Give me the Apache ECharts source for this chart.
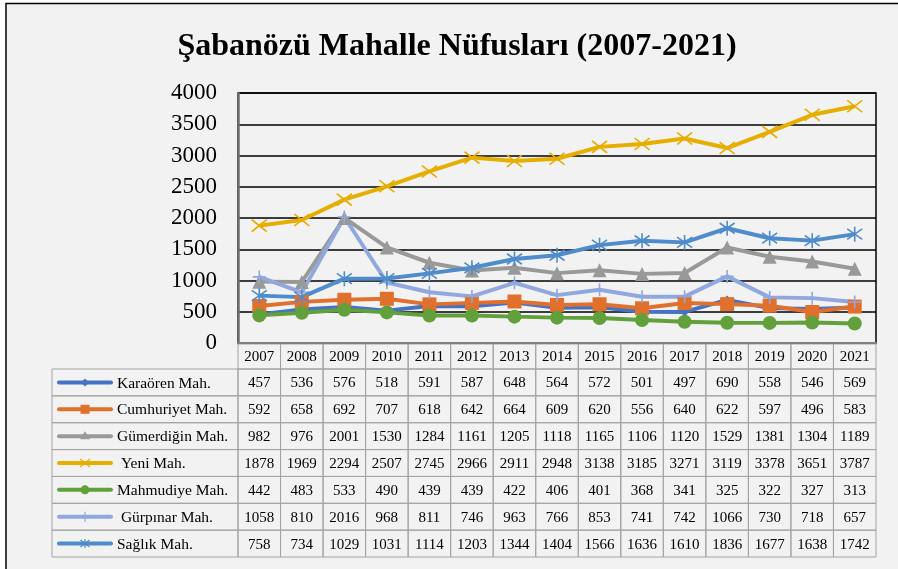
<!DOCTYPE html>
<html>
<head>
<meta charset="utf-8">
<script src="https://cdn.jsdelivr.net/npm/echarts@6/dist/echarts.min.js"></script>
<style>
  html, body { margin: 0; padding: 0; background: #ffffff; }
  #chart { width: 898px; height: 569px; }
</style>
</head>
<body>
<div id="chart"></div>
<script>
const years = ["2007", "2008", "2009", "2010", "2011", "2012", "2013", "2014", "2015", "2016", "2017", "2018", "2019", "2020", "2021"];
const karaoren = [457, 536, 576, 518, 591, 587, 648, 564, 572, 501, 497, 690, 558, 546, 569];
const cumhuriyet = [592, 658, 692, 707, 618, 642, 664, 609, 620, 556, 640, 622, 597, 496, 583];
const gumerdigin = [982, 976, 2001, 1530, 1284, 1161, 1205, 1118, 1165, 1106, 1120, 1529, 1381, 1304, 1189];
const yeni = [1878, 1969, 2294, 2507, 2745, 2966, 2911, 2948, 3138, 3185, 3271, 3119, 3378, 3651, 3787];
const mahmudiye = [442, 483, 533, 490, 439, 439, 422, 406, 401, 368, 341, 325, 322, 327, 313];
const gurpinar = [1058, 810, 2016, 968, 811, 746, 963, 766, 853, 741, 742, 1066, 730, 718, 657];
const saglik = [758, 734, 1029, 1031, 1114, 1203, 1344, 1404, 1566, 1636, 1610, 1836, 1677, 1638, 1742];
const seriesNames = ["Karaören Mah.", "Cumhuriyet Mah.", "Gümerdiğin Mah.", " Yeni Mah.", "Mahmudiye Mah.", " Gürpınar Mah.", "Sağlık Mah."];
const yMin = 0;
const yMax = 4000;
const yStep = 500;

const TITLE = "Şabanözü Mahalle Nüfusları (2007-2021)";
const SERIF = "'Liberation Serif', 'Times New Roman', serif";

// layout (pixels)
const PLOT_LEFT = 238;
const PLOT_RIGHT = 876;
const PLOT_TOP = 93;
const PLOT_BOTTOM = 343;
const HEADER_TOP = 344;
const ROWS_TOP = 369;
const ROW_H = 26.86;
const KEY_LEFT = 52;
const KEY_LINE_X1 = 59;
const KEY_LINE_X2 = 111;
const KEY_TEXT_X = 117;
const CELL_BORDER = "#a3a3a3";

const PATH_X = "path://M0,0L10,10M10,0L0,10";
const PATH_PLUS = "path://M5,0L5,10M0,5L10,5";
const PATH_STAR = "path://M5,0L5,10M0.8,1.5L9.2,8.5M9.2,1.5L0.8,8.5";

const styles = [
  { color: "#4472c4", symbol: "diamond", size: 9, stroke: false },
  { color: "#e0702c", symbol: "rect", size: 14, stroke: false },
  { color: "#999999", symbol: "triangle", size: 14, stroke: false },
  { color: "#e6ae00", symbol: PATH_X, size: [15, 12], stroke: true },
  { color: "#62a03c", symbol: "circle", size: 14, stroke: false },
  { color: "#90a8de", symbol: PATH_PLUS, size: 13, stroke: true },
  { color: "#4f8ccb", symbol: PATH_STAR, size: 15, stroke: true },
];
const seriesValues = [karaoren, cumhuriyet, gumerdigin, yeni, mahmudiye, gurpinar, saglik];

const chart = echarts.init(document.getElementById("chart"), null, { renderer: "canvas" });

const series = seriesValues.map((values, i) => {
  const s = styles[i];
  return {
    name: seriesNames[i],
    type: "line",
    data: values,
    symbol: s.symbol,
    symbolSize: s.size,
    symbolKeepAspect: false,
    showSymbol: true,
    lineStyle: { color: s.color, width: 4 },
    itemStyle: s.stroke
      ? { color: s.color, borderColor: s.color, borderWidth: 1.6 }
      : { color: s.color, borderWidth: 0 },
    emphasis: { disabled: true },
  };
});

// small legend key marker drawn with plain graphic shapes
function keyMarker(kind, cx, cy, color) {
  const line = (x1, y1, x2, y2) => ({
    type: "line",
    shape: { x1, y1, x2, y2 },
    style: { stroke: color, lineWidth: 1.2 },
  });
  if (kind === 0) {
    return [{ type: "polygon", shape: { points: [[cx, cy - 4], [cx + 4, cy], [cx, cy + 4], [cx - 4, cy]] }, style: { fill: color } }];
  }
  if (kind === 1) {
    return [{ type: "rect", shape: { x: cx - 4.5, y: cy - 4.5, width: 9, height: 9 }, style: { fill: color } }];
  }
  if (kind === 2) {
    return [{ type: "polygon", shape: { points: [[cx, cy - 5], [cx + 5, cy + 3], [cx - 5, cy + 3]] }, style: { fill: color } }];
  }
  if (kind === 3) {
    return [line(cx - 5, cy - 4, cx + 5, cy + 4), line(cx + 5, cy - 4, cx - 5, cy + 4)];
  }
  if (kind === 4) {
    return [{ type: "circle", shape: { cx, cy, r: 4.5 }, style: { fill: color } }];
  }
  if (kind === 5) {
    return [line(cx, cy - 5, cx, cy + 5), line(cx - 4, cy, cx + 4, cy)];
  }
  return [line(cx, cy - 4.5, cx, cy + 4.5), line(cx - 4.5, cy - 3.5, cx + 4.5, cy + 3.5), line(cx + 4.5, cy - 3.5, cx - 4.5, cy + 3.5)];
}

// data table under the plot
const colW = (PLOT_RIGHT - PLOT_LEFT) / years.length;
const tableGraphics = [];
years.forEach((year, c) => {
  const x = PLOT_LEFT + c * colW;
  tableGraphics.push({
    type: "rect",
    shape: { x, y: HEADER_TOP, width: colW, height: ROWS_TOP - HEADER_TOP },
    style: { fill: "none", stroke: CELL_BORDER, lineWidth: 1 },
  });
  tableGraphics.push({
    type: "text",
    x: x + colW / 2,
    y: (HEADER_TOP + ROWS_TOP) / 2 + 1,
    style: { text: year, fontFamily: SERIF, fontSize: 15, fill: "#000", align: "center", verticalAlign: "middle" },
  });
});
seriesValues.forEach((values, r) => {
  const y = ROWS_TOP + r * ROW_H;
  const cy = y + ROW_H / 2;
  const color = styles[r].color;
  tableGraphics.push({
    type: "rect",
    shape: { x: KEY_LEFT, y, width: PLOT_LEFT - KEY_LEFT, height: ROW_H },
    style: { fill: "none", stroke: CELL_BORDER, lineWidth: 1 },
  });
  tableGraphics.push({
    type: "line",
    shape: { x1: KEY_LINE_X1, y1: cy, x2: KEY_LINE_X2, y2: cy },
    style: { stroke: color, lineWidth: 4, lineCap: "round" },
  });
  tableGraphics.push(...keyMarker(r, (KEY_LINE_X1 + KEY_LINE_X2) / 2, cy, color));
  tableGraphics.push({
    type: "text",
    x: KEY_TEXT_X,
    y: cy + 1,
    style: { text: seriesNames[r], fontFamily: SERIF, fontSize: 15.5, fill: "#000", align: "left", verticalAlign: "middle" },
  });
  values.forEach((v, c) => {
    const x = PLOT_LEFT + c * colW;
    tableGraphics.push({
      type: "rect",
      shape: { x, y, width: colW, height: ROW_H },
      style: { fill: "none", stroke: CELL_BORDER, lineWidth: 1 },
    });
    tableGraphics.push({
      type: "text",
      x: x + colW / 2,
      y: cy + 1,
      style: { text: String(v), fontFamily: SERIF, fontSize: 15, fill: "#000", align: "center", verticalAlign: "middle" },
    });
  });
});

chart.setOption({
  animation: false,
  backgroundColor: "#ffffff",
  title: {
    text: TITLE,
    left: 452,
    textAlign: "center",
    top: 26,
    textStyle: { fontFamily: SERIF, fontSize: 32, fontWeight: "bold", color: "#000" },
  },
  grid: {
    left: PLOT_LEFT,
    right: 898 - PLOT_RIGHT,
    top: PLOT_TOP,
    bottom: 569 - PLOT_BOTTOM,
    show: true,
    borderColor: "#000",
    borderWidth: 1.5,
    backgroundColor: "transparent",
  },
  xAxis: {
    type: "category",
    data: years,
    boundaryGap: true,
    axisLine: { show: true, lineStyle: { color: "#808080", width: 2 } },
    axisTick: { show: false },
    axisLabel: { show: false },
    splitLine: { show: false },
  },
  yAxis: {
    type: "value",
    min: yMin,
    max: yMax,
    interval: yStep,
    axisLine: { show: true, lineStyle: { color: "#6e6e6e", width: 2.5 } },
    axisTick: { show: false },
    axisLabel: { fontFamily: SERIF, fontSize: 23, color: "#000", margin: 21, formatter: (v) => String(v) },
    splitLine: { show: true, lineStyle: { color: "#000", width: 1.5 } },
  },
  graphic: [
    {
      type: "rect",
      z: -10,
      silent: true,
      shape: { x: 6, y: 3.5, width: 1000, height: 1000 },
      style: { fill: "#f2f2f2", stroke: "#000", lineWidth: 1.5 },
    },
    ...tableGraphics,
  ],
  series,
});
</script>
</body>
</html>
